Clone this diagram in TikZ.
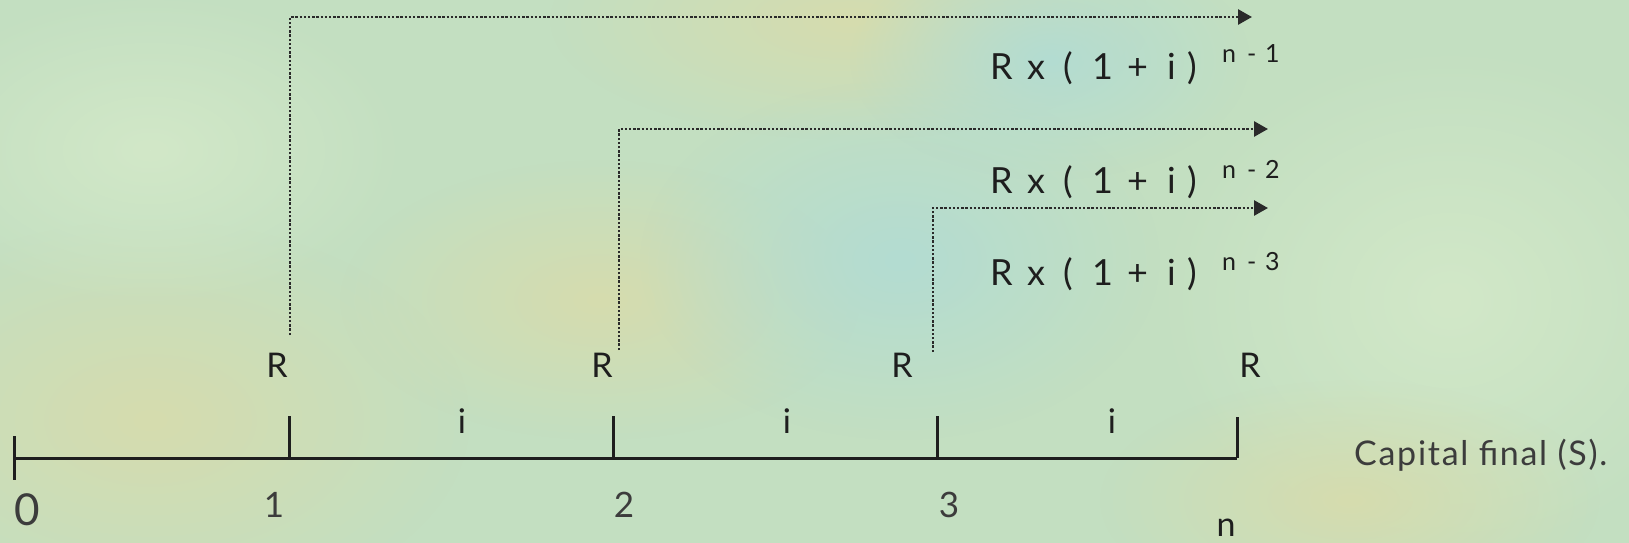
\documentclass[tikz,border=0pt]{standalone}
\usepackage{fontspec}
\setmainfont{Lato}
\usetikzlibrary{arrows.meta,fadings}
\definecolor{bgbase}{HTML}{C3DFC1}
\definecolor{bgyellow}{HTML}{D6DCAE}
\definecolor{bgblue}{HTML}{B3DCD2}
\definecolor{bglight}{HTML}{D2E8C8}
\definecolor{inkdark}{HTML}{1E1E1E}
\definecolor{inkgrey}{HTML}{3C3C3C}
\definecolor{dotgrey}{HTML}{2A2A2A}
\tikzfading[name=softblob, inner color=transparent!0, outer color=transparent!100]
\newcommand\RxFormula{\makebox[37pt][l]{R}\makebox[36pt][l]{x}\makebox[29pt][l]{(}\makebox[35pt][l]{1}\makebox[40pt][l]{+}\makebox[20pt][l]{i})}
\newcommand\ExpoText[1]{\makebox[25pt][l]{n}\makebox[18pt][l]{-}#1}
\tikzset{
  axisline/.style={line width=3pt, draw=inkdark},
  dotarrow/.style={line width=2.8pt, draw=dotgrey, dash pattern=on 2.4pt off 1.8pt,
     -{Triangle[length=14pt,width=15pt,fill=dotgrey]}},
  rlab/.style={inner sep=0, text=inkdark, anchor=base, font=\fontsize{34}{40}\selectfont},
  ilab/.style={inner sep=0, text=inkdark, anchor=base, font=\fontsize{34}{40}\selectfont},
  numlab/.style={inner sep=0, text=inkgrey, anchor=base, font=\fontsize{35}{40}\selectfont},
  zerolab/.style={inner sep=0, text=inkgrey, anchor=base, font=\fontsize{44}{50}\selectfont},
  formula/.style={inner sep=0, text=inkdark, anchor=base west, font=\fontsize{36}{42}\selectfont},
  expo/.style={inner sep=0, text=inkdark, anchor=base west, font=\fontsize{25}{30}\selectfont},
  caplab/.style={inner sep=0, text=inkgrey, anchor=base west, font=\fontsize{34}{40}\selectfont\addfontfeatures{LetterSpace=5}},
  blob/.style={path fading=softblob},
}
\begin{document}
\begin{tikzpicture}[x=1pt,y=-1pt]
\useasboundingbox (0,0) rectangle (1629,543);
\clip (0,0) rectangle (1629,543);
% background
\fill[bgbase] (0,0) rectangle (1629,543);
\fill[bgyellow, blob] (150,420) ellipse [x radius=320, y radius=200];
\fill[bgyellow, blob] (850,20) ellipse [x radius=300, y radius=120];
\fill[bgyellow, blob] (600,300) ellipse [x radius=260, y radius=140];
\fill[bgblue, blob] (900,260) ellipse [x radius=260, y radius=180];
\fill[bgblue, blob] (1050,60) ellipse [x radius=200, y radius=120];
\fill[bglight, blob] (1450,300) ellipse [x radius=300, y radius=260];
\fill[bglight, blob] (150,150) ellipse [x radius=260, y radius=160];
\fill[bgyellow, blob] (1350,500) ellipse [x radius=250, y radius=120];

% axis points
\coordinate (t0) at (14,458);
\coordinate (t1) at (289,458);
\coordinate (t2) at (613,458);
\coordinate (t3) at (937,458);
\coordinate (tn) at (1237,458);
\coordinate (t0a) at (14,436);
\coordinate (t0b) at (14,480);
\coordinate (t1a) at (289,416);
\coordinate (t2a) at (613,416);
\coordinate (t3a) at (937,416);
\coordinate (tna) at (1237,417);

\draw[axisline] (t0) -- (tn);
\draw[axisline] (t0a) -- (t0b);
\draw[axisline] (t1a) -- (t1);
\draw[axisline] (t2a) -- (t2);
\draw[axisline] (t3a) -- (t3);
\draw[axisline] (tna) -- (tn);

% dotted arrows
\coordinate (d1s) at (290,335);
\coordinate (d1e) at (1252,17);
\coordinate (d2s) at (619,350);
\coordinate (d2e) at (1268,129);
\coordinate (d3s) at (933,352);
\coordinate (d3e) at (1268,208);
\draw[dotarrow] (d1s) |- (d1e);
\draw[dotarrow] (d2s) |- (d2e);
\draw[dotarrow] (d3s) |- (d3e);

% labels
\node[zerolab] (n0) at (27,525) {0};
\node[numlab] (n1) at (274,517) {1};
\node[numlab] (n2) at (624,517) {2};
\node[numlab] (n3) at (949,517) {3};
\node[rlab] (nn) at (1226,536) {n};

\node[rlab] (r1) at (277,377) {R};
\node[rlab] (r2) at (602,377) {R};
\node[rlab] (r3) at (902,377) {R};
\node[rlab] (r4) at (1250,377) {R};

\node[ilab] (i1) at (462,433) {i};
\node[ilab] (i2) at (787,433) {i};
\node[ilab] (i3) at (1112,433) {i};

\node[formula] (f1) at (990,79) {\RxFormula};
\node[expo] (e1) at (1222,63) {\ExpoText{1}};
\node[formula] (f2) at (990,193) {\RxFormula};
\node[expo] (e2) at (1222,178) {\ExpoText{2}};
\node[formula] (f3) at (990,285) {\RxFormula};
\node[expo] (e3) at (1222,270) {\ExpoText{3}};

\node[caplab] (cap) at (1354,465) {Capital final (S).};
\end{tikzpicture}
\end{document}
